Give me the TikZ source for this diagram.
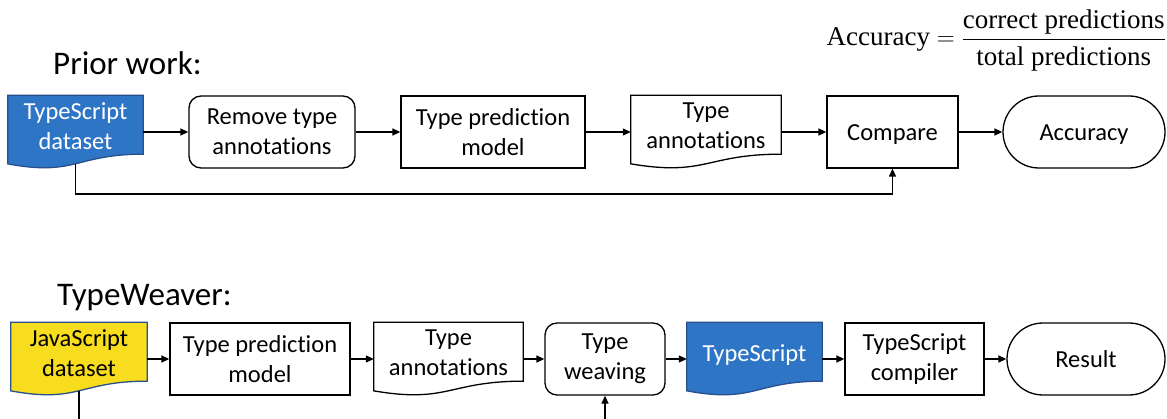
\documentclass[tikz,border=0pt]{standalone}
\usepackage{fontspec}
\usepackage{amsmath}
\setmainfont{Carlito}[Ligatures={NoCommon}]
\newfontfamily\eqfont{Liberation Serif}
\usetikzlibrary{arrows.meta,shapes.misc,calc}
\definecolor{tsblue}{RGB}{47,117,198}
\definecolor{tsedge}{RGB}{40,80,140}
\definecolor{jsyellow}{RGB}{248,221,30}
\newcommand{\docshape}[2]{%
  \path[#1] let \p1=(#2.north west), \p2=(#2.south east) in
   (\x1,\y1) -- (\x2,\y1) -- (\x2,{\y1+0.802*(\y2-\y1)})
   .. controls ({0.5*(\x1+\x2)},{\y1+0.802*(\y2-\y1)}) and ({0.5*(\x1+\x2)},{\y1+1.1075*(\y2-\y1)}) .. (\x1,{\y1+0.934*(\y2-\y1)}) -- cycle;}
\tikzset{
  base/.style={font=\fontsize{24.5}{30}\selectfont, align=center, inner sep=0pt},
  procbox/.style={base, draw, line width=1.3pt, rectangle, minimum height=72pt},
  roundbox/.style={procbox, rounded corners=12pt},
  termbox/.style={base, draw, line width=1.3pt, rounded rectangle, minimum height=72pt},
  docbox/.style={base, rectangle, minimum height=73pt},
  oneline/.style={text height=17pt, text depth=0pt},
  arr/.style={line width=1.3pt, -{Triangle[length=8pt,width=7pt]}},
  title/.style={font=\fontsize{33}{38}\selectfont, inner sep=0pt, anchor=base west},
}
\begin{document}
\begin{tikzpicture}[x=1pt,y=-1pt]
\useasboundingbox (0,0) rectangle (1167,419);
\clip (0,0) rectangle (1167,419);

% titles
\node[title] (prior) at (53,75) {Prior work:};
\node[title] (tw) at (57,306) {TypeWeaver:};

% equation
\node[anchor=east, inner sep=0pt] (eq) at (1166,40.5)
  {\eqfont\fontsize{27}{32}\selectfont $\text{Accuracy} = \dfrac{\text{correct predictions}}{\rule{0pt}{22pt}\text{total predictions}}$};

% ---------- top row ----------
\node[docbox, minimum width=135pt] (tsd) at (75.5,132) {};
\docshape{fill=tsblue, draw=tsedge, line width=1.3pt}{tsd}
\node[base, text=white] (tsdt) at (75.5,126) {TypeScript\\dataset};

\node[roundbox, minimum width=166pt] (rm) at (272,132) {Remove type\\annotations};
\node[procbox, minimum width=184pt] (tpa) at (493,132) {Type prediction\\model};

\node[docbox, minimum width=150pt] (ana) at (706,132) {};
\docshape{draw=black, fill=white, line width=1.3pt}{ana}
\node[base] (anat) at (706,126) {Type\\annotations};

\node[procbox, oneline, minimum width=131pt] (cmp) at (892.5,132) {Compare};
\node[termbox, oneline, minimum width=162pt] (acc) at (1084,132) {Accuracy};

\draw[arr] (tsd.east) -- (rm.west);
\draw[arr] (rm.east) -- (tpa.west);
\draw[arr] (tpa.east) -- (ana.west);
\draw[arr] (ana.east) -- (cmp.west);
\draw[arr] (cmp.east) -- (acc.west);
\coordinate (tsdb) at ($(tsd.north)!0.933!(tsd.south)$);
\coordinate (fbrow) at (0,194);
\draw[arr] (tsdb) -- (tsdb |- fbrow) -| (cmp.south);

% ---------- bottom row ----------
\node[docbox, minimum width=136pt] (jsd) at (79,359) {};
\docshape{fill=jsyellow, draw=tsedge, line width=1.3pt}{jsd}
\node[base] (jsdt) at (79,353) {JavaScript\\dataset};

\node[procbox, minimum width=180pt] (tpb) at (260,359) {Type prediction\\model};

\node[docbox, minimum width=149pt] (anb) at (448.5,359) {};
\docshape{draw=black, fill=white, line width=1.3pt}{anb}
\node[base] (anbt) at (448.5,353) {Type\\annotations};

\node[roundbox, minimum width=120pt] (wv) at (605,359) {Type\\weaving};

\node[docbox, minimum width=135pt] (tso) at (754.5,359) {};
\docshape{fill=tsblue, draw=tsedge, line width=1.3pt}{tso}
\node[base, oneline, text=white] (tsot) at (754.5,353) {TypeScript};

\node[procbox, minimum width=139pt] (tsc) at (914.5,359) {TypeScript\\compiler};
\node[termbox, oneline, minimum width=158pt] (res) at (1086,359) {Result};

\draw[arr] (jsd.east) -- (tpb.west);
\draw[arr] (tpb.east) -- (anb.west);
\draw[arr] (anb.east) -- (wv.west);
\draw[arr] (wv.east) -- (tso.west);
\draw[arr] (tso.east) -- (tsc.west);
\draw[arr] (tsc.east) -- (res.west);
\coordinate (jsdb) at ($(jsd.north)!0.933!(jsd.south)$);
\coordinate (botrow) at (0,440);
\draw[arr] (jsdb) -- (jsdb |- botrow) -| (wv.south);
\end{tikzpicture}
\end{document}
